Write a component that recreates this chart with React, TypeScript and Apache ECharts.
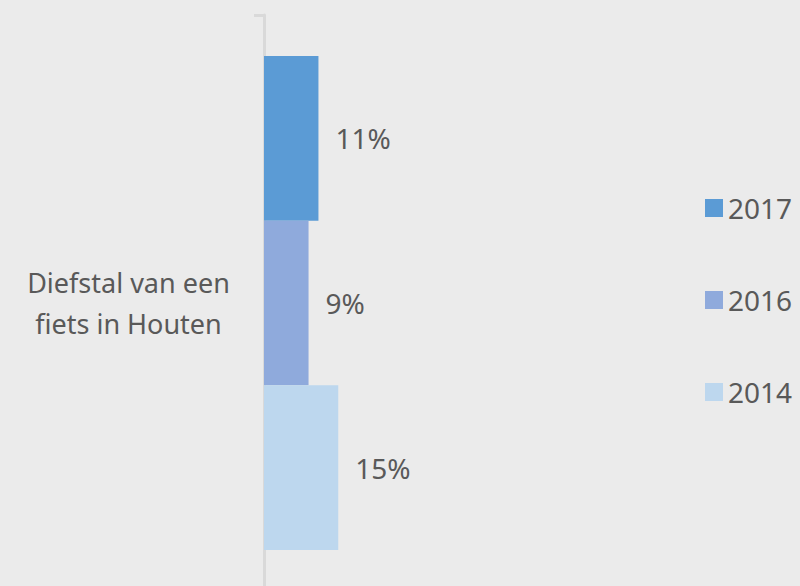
import React, { useEffect, useRef } from "react";
import * as echarts from "echarts";

const categories = ["Diefstal van een\nfiets in Houten"];
const seriesNames = ["2017", "2016", "2014"];
const values2014 = [15];
const values2016 = [9];
const values2017 = [11];
const legendOrder = ["2017", "2016", "2014"];
const colors: Record<string, string> = {
  "2017": "#5B9BD5",
  "2016": "#8FAADC",
  "2014": "#BDD7EE",
};

export default function App() {
  const ref = useRef<HTMLDivElement>(null);
  useEffect(() => {
    document.body.style.margin = "0";
    const chart = echarts.init(ref.current!, null, { renderer: "svg" });
    const font = "'Noto Sans', sans-serif";
    const dataMap: Record<string, number[]> = {
      "2014": values2014,
      "2016": values2016,
      "2017": values2017,
    };
    chart.setOption({
      animation: false,
      backgroundColor: "#ebebeb",
      grid: { left: 264, right: 41, top: 15, height: 576, outerBoundsMode: "none", containLabel: false },
      xAxis: { type: "value", min: 0, max: 100, show: false },
      yAxis: {
        type: "category",
        data: categories,
        offset: 1.5,
        axisLine: { show: true, lineStyle: { color: "#d9d9d9", width: 3 } },
        axisTick: { show: true, length: 10, lineStyle: { color: "#d9d9d9", width: 3 } },
        axisLabel: {
          align: "center",
          margin: 134,
          fontFamily: font,
          fontSize: 27,
          lineHeight: 41,
          color: "#595959",
        },
      },
      legend: {
        orient: "vertical",
        left: 700,
        top: 188,
        data: legendOrder,
        icon: "rect",
        itemWidth: 18,
        itemHeight: 18,
        itemGap: 62,
        textStyle: {
          fontFamily: font,
          fontSize: 28,
          lineHeight: 30,
          color: "#595959",
          padding: [0, 0, 0, 0],
        },
      },
      series: seriesNames.map((name) => ({
        name,
        type: "bar",
        data: dataMap[name],
        barGap: 0,
        barCategoryGap: "14.2%",
        itemStyle: { color: colors[name] },
        label: {
          show: true,
          position: "right",
          distance: 17,
          formatter: "{c}%",
          fontFamily: font,
          fontSize: 28,
          color: "#595959",
        },
      })),
    });
    return () => chart.dispose();
  }, []);
  return <div ref={ref} style={{ width: 800, height: 586 }} />;
}
